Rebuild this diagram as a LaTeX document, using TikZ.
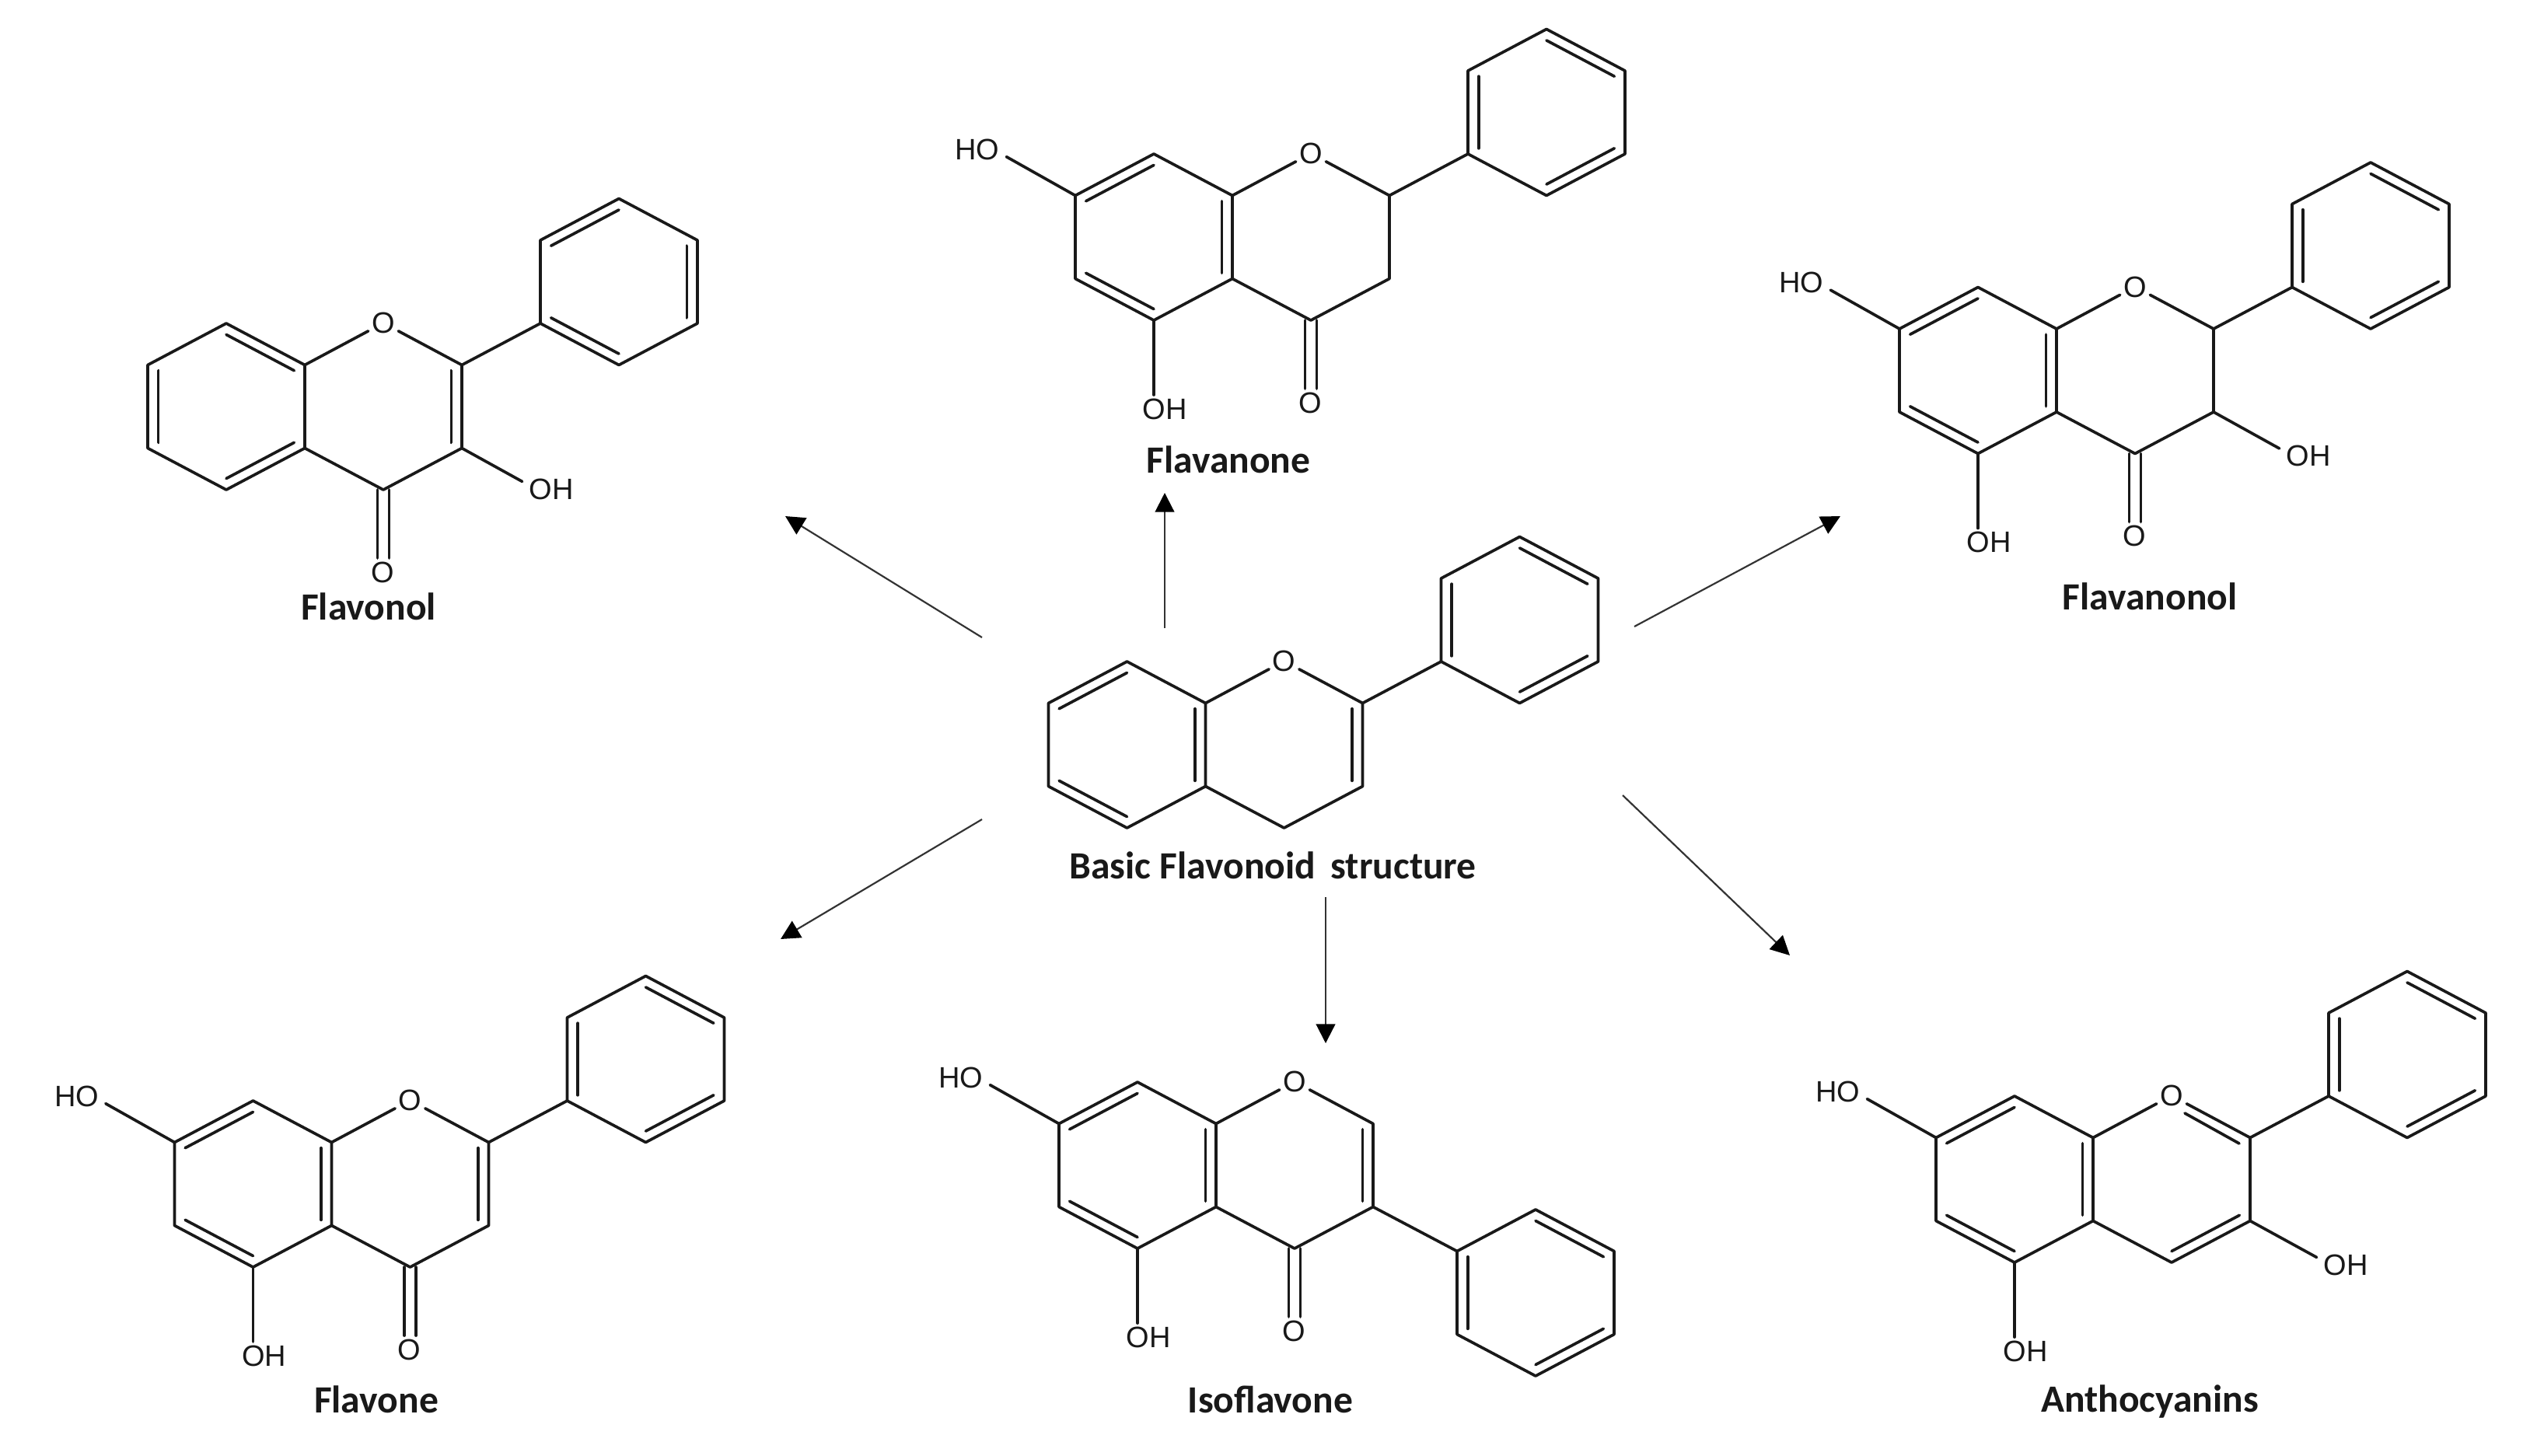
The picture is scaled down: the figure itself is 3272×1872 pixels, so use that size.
\documentclass[tikz,border=0pt]{standalone}
\usepackage{fontspec}
\setmainfont{Carlito}
\newfontfamily\atomfont{Liberation Sans}
\usetikzlibrary{calc,arrows.meta}
\tikzset{
  bond/.style={line width=1.05pt,draw=black!90,line cap=round,line join=round},
  atom/.style={font=\atomfont\fontsize{10.8}{12}\selectfont,inner sep=1.1pt,text=black!90},
  title/.style={font=\bfseries\fontsize{14.1}{16}\selectfont,inner sep=0pt,text=black!90},
  react/.style={line width=0.62pt,draw=black!80,-{Triangle[length=7pt,width=7pt,color=black]}}
}
% skeleton coordinates, local frame: origin at mid fused bond
\newcommand{\skelpts}{%
  \coordinate (LC) at (-101,0); \coordinate (RC) at (101,0);
  \coordinate (A1) at (-101,-107); \coordinate (A2) at (-202,-53.5);
  \coordinate (A3) at (-202,53.5); \coordinate (A4) at (-101,107);
  \coordinate (F1) at (0,-53.5); \coordinate (F2) at (0,53.5);
  \coordinate (C2) at (202,-53.5); \coordinate (C3) at (202,53.5);
  \coordinate (C4) at (101,107);
  \coordinate (CL) at (93.5,107); \coordinate (CR) at (108.5,107);
  \node[atom] (O1) at (101,-107.5) {O};
}
\newcommand{\dbl}[3]{\draw[bond] ($(#1)!0.865!(#2)$) -- ($(#1)!0.865!(#3)$);}
\newcommand{\ringouter}{%
  \draw[bond] (F1) -- (A1) -- (A2) -- (A3) -- (A4) -- (F2) -- cycle;
  \draw[bond] (F1) -- (O1);
  \draw[bond] (O1) -- (C2) -- (C3) -- (C4) -- (F2);
}
\newcommand{\leftA}{\dbl{LC}{A1}{A2}\dbl{LC}{A3}{A4}\dbl{LC}{F1}{F2}}
\newcommand{\leftB}{\dbl{LC}{A1}{F1}\dbl{LC}{A2}{A3}\dbl{LC}{A4}{F2}}
% phenyl ring around a centre given in the local frame
\newcommand{\phenpts}[2]{%
  \coordinate (PC) at (#1,#2);
  \coordinate (PT) at (#1,#2-107); \coordinate (PB) at (#1,#2+107);
  \coordinate (PUL) at (#1-101,#2-53.5); \coordinate (PLL) at (#1-101,#2+53.5);
  \coordinate (PUR) at (#1+101,#2-53.5); \coordinate (PLR) at (#1+101,#2+53.5);
  \draw[bond] (PT) -- (PUR) -- (PLR) -- (PB) -- (PLL) -- (PUL) -- cycle;
}
\newcommand{\phenA}{\dbl{PC}{PUL}{PLL}\dbl{PC}{PT}{PUR}\dbl{PC}{PLR}{PB}}
\newcommand{\phenB}{\dbl{PC}{PT}{PUL}\dbl{PC}{PUR}{PLR}\dbl{PC}{PB}{PLL}}
\newcommand{\stdphenyl}{\phenpts{404}{-160.5}\draw[bond] (C2) -- (PLL);}
% substituents
\newcommand{\hoseven}{%
  \node[atom] (HO7) at (-328,-113) {HO};
  \draw[bond,shorten >=1.4pt] (A2) -- ($(HO7.east)!0.4!(HO7.south east)$);
}
\newcommand{\ohfive}{%
  \node[atom] (OH5) at (-87,221) {OH};
  \draw[bond] (A4) -- (A4 |- OH5.north);
}
\newcommand{\carbonyl}{%
  \node[atom] (O4) at (100,213) {O};
  \draw[bond] (CL) -- (CL |- O4.north);
  \draw[bond] (CR) -- (CR |- O4.north);
}
\newcommand{\ohthree}[2]{%
  \node[atom] (OH3) at (#1,#2) {OH};
  \draw[bond,shorten >=1.4pt] (C3) -- ($(OH3.west)!0.4!(OH3.north west)$);
}
\begin{document}
\begin{tikzpicture}[x=0.01cm,y=-0.01cm]
\useasboundingbox (0,0) rectangle (3272,1872);

% Basic flavonoid structure
\begin{scope}[shift={(1550.5,958)},name prefix=basic-]
  \skelpts\ringouter\leftA\dbl{RC}{C2}{C3}
  \stdphenyl\phenA
\end{scope}
\node[title] (tbasic) at (1637,1113) {Basic Flavonoid\ \,structure};

% Flavonol
\begin{scope}[shift={(392,523)},name prefix=flavonol-]
  \skelpts\ringouter\leftB\dbl{RC}{C2}{C3}
  \stdphenyl\phenB\carbonyl\ohthree{317}{106}
\end{scope}
\node[title] (tflavonol) at (474,780) {Flavonol};

% Flavanone
\begin{scope}[shift={(1585,305)},name prefix=flavanone-]
  \skelpts\ringouter\leftA
  \stdphenyl\phenA\carbonyl\hoseven\ohfive
\end{scope}
\node[title] (tflavanone) at (1580,591) {Flavanone};

% Flavanonol
\begin{scope}[shift={(2645,476.5)},name prefix=flavanonol-]
  \skelpts\ringouter\leftA
  \stdphenyl\phenA\carbonyl\hoseven\ohfive\ohthree{324}{110}
\end{scope}
\node[title] (tflavanonol) at (2765,767) {Flavanonol};

% Flavone
\begin{scope}[shift={(426.5,1523)},name prefix=flavone-]
  \skelpts\ringouter\leftA\dbl{RC}{C2}{C3}
  \stdphenyl\phenA\carbonyl\hoseven\ohfive
\end{scope}
\node[title] (tflavone) at (484,1800) {Flavone};

% Isoflavone
\begin{scope}[shift={(1564,1499)},name prefix=isoflavone-]
  \skelpts\ringouter\leftA\dbl{RC}{C2}{C3}
  \phenpts{411}{164}\draw[bond] (C3) -- (PUL);\phenA
  \carbonyl\hoseven\ohfive
\end{scope}
\node[title] (tisoflavone) at (1634,1800) {Isoflavone};

% Anthocyanins
\begin{scope}[shift={(2692,1517)},name prefix=antho-]
  \skelpts\ringouter\leftA\dbl{RC}{C3}{C4}
  \coordinate (OC) at (118,-85); \coordinate (OD) at (188,-46);
  \draw[bond] (OC) -- (OD);
  \stdphenyl\phenA\hoseven\ohfive\ohthree{325}{110}
\end{scope}
\node[title] (tantho) at (2765,1803) {Anthocyanins};

% reaction arrows
\coordinate (s1) at (1263,820);  \coordinate (e1) at (1010,664);
\coordinate (s2) at (1498,808);  \coordinate (e2) at (1498,634);
\coordinate (s3) at (2102,806);  \coordinate (e3) at (2367,664);
\coordinate (s4) at (1263,1054); \coordinate (e4) at (1004,1208);
\coordinate (s5) at (1705,1154); \coordinate (e5) at (1705,1342);
\coordinate (s6) at (2087,1023); \coordinate (e6) at (2302,1229);
\foreach \k in {1,...,6} \draw[react] (s\k) -- (e\k);
\end{tikzpicture}
\end{document}
